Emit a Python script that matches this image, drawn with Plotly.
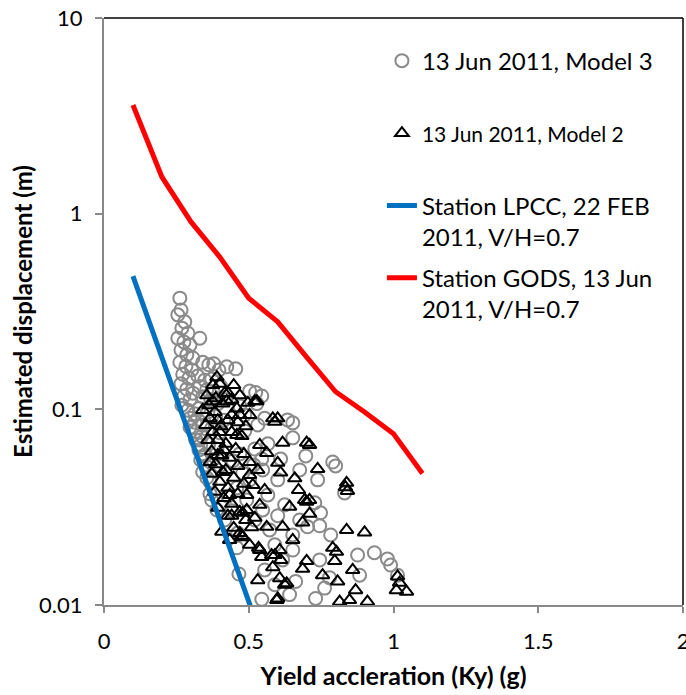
import plotly.graph_objects as go

# ---- data (x: yield acceleration Ky in g, y: displacement in m) ----
m3_x = [0.262,0.266,0.255,0.279,0.269,0.29,0.255,0.276,0.297,0.266,0.286,0.307,0.262,0.283,0.303,0.272,0.293,0.266,0.286,0.307,
        0.276,0.297,0.269,0.29,0.314,0.297,0.314,0.297,0.317,0.338,0.317,0.334,0.328,0.348,0.334,0.352,0.341,0.331,0.341,0.362,
        0.379,0.397,0.424,0.455,0.324,0.348,0.372,0.331,0.355,0.379,0.403,0.341,0.369,0.393,0.421,0.328,0.359,0.386,0.414,0.341,
        0.372,0.40,0.331,0.362,0.39,0.348,0.376,0.40,0.355,0.366,0.366,0.372,0.39,0.503,0.524,0.545,0.528,0.469,0.486,0.555,
        0.531,0.486,0.566,0.521,0.469,0.545,0.445,0.479,0.503,0.459,0.428,0.493,0.441,0.417,0.462,0.459,0.466,0.545,0.634,0.652,
        0.652,0.61,0.79,0.80,0.738,0.831,0.728,0.748,0.703,0.745,0.783,0.652,0.652,0.60,0.572,0.59,0.617,0.555,0.59,0.641,
        0.662,0.745,0.876,0.934,0.979,0.99,1.014,0.883,0.779,0.762,0.731,0.676,0.624,0.548,0.521,0.566,0.60,0.676,0.697,0.548,
        0.517]
m3_y = [0.37,0.322,0.304,0.28,0.26,0.245,0.231,0.221,0.213,0.201,0.19,0.183,0.174,0.166,0.159,0.151,0.144,0.135,0.127,0.121,
        0.117,0.112,0.105,0.099,0.095,0.09,0.086,0.081,0.077,0.073,0.0698,0.0658,0.062,0.0585,0.0551,0.0514,0.0478,0.231,0.174,0.169,
        0.171,0.159,0.165,0.161,0.148,0.141,0.143,0.131,0.126,0.121,0.131,0.116,0.112,0.107,0.112,0.101,0.097,0.092,0.088,0.083,
        0.08,0.076,0.0698,0.0666,0.0627,0.0578,0.0551,0.0514,0.0447,0.0426,0.037,0.0344,0.0306,0.124,0.122,0.117,0.107,0.104,0.0936,0.09,
        0.0832,0.0775,0.0666,0.0627,0.0592,0.0558,0.0545,0.0473,0.0436,0.0397,0.036,0.0344,0.0303,0.0272,0.0233,0.0196,0.0144,0.0107,0.0883,0.0853,
        0.0715,0.0558,0.0538,0.0514,0.0436,0.0374,0.0333,0.0296,0.0251,0.0254,0.0228,0.0228,0.0191,0.0286,0.0242,0.0203,0.017,0.0151,0.0127,0.0113,
        0.0132,0.017,0.018,0.0185,0.0172,0.016,0.0142,0.0142,0.0138,0.0122,0.0108,0.0272,0.0325,0.0306,0.0272,0.0365,0.0436,0.049,0.0578,0.049,
        0.052]

m2_x = [0.39,0.376,0.428,0.40,0.376,0.424,0.459,0.497,0.528,0.503,0.59,0.40,0.459,0.538,0.562,0.393,0.434,0.503,0.41,0.503,
        0.514,0.434,0.493,0.417,0.441,0.41,0.383,0.469,0.366,0.428,0.462,0.403,0.49,0.441,0.376,0.476,0.393,0.421,0.455,0.372,
        0.407,0.483,0.386,0.462,0.421,0.372,0.448,0.40,0.483,0.428,0.383,0.462,0.414,0.441,0.393,0.469,0.428,0.49,0.448,0.407,
        0.476,0.434,0.355,0.362,0.352,0.359,0.366,0.341,0.393,0.414,0.441,0.386,0.469,0.448,0.521,0.583,0.60,0.617,0.70,0.71,
        0.738,0.838,0.841,0.834,0.641,0.70,0.71,0.838,0.90,0.79,0.803,0.797,0.70,0.686,0.755,0.807,0.859,1.014,1.021,1.045,
        1.01,0.814,0.848,0.91,0.60,0.531,0.607,0.631,0.579,0.607,0.534,0.545,0.583,0.469,0.521,0.538,0.479,0.441,0.493,0.562,
        0.479,0.538,0.59,0.597,0.71,0.686,0.617,0.652,0.61,0.624,0.869,0.61,0.60,0.659,0.672,0.693,0.503,0.51,0.555,0.531]
m2_y = [0.146,0.133,0.121,0.135,0.11,0.11,0.101,0.108,0.11,0.0936,0.0863,0.0765,0.074,0.0658,0.0599,0.0585,0.0565,0.0538,0.0478,0.0462,
        0.0411,0.0365,0.0365,0.121,0.112,0.107,0.097,0.0936,0.09,0.088,0.086,0.082,0.082,0.0765,0.0765,0.073,0.0698,0.0666,0.0627,0.061,
        0.058,0.0592,0.0524,0.0514,0.049,0.0468,0.0447,0.0426,0.0417,0.0397,0.0379,0.037,0.0352,0.0329,0.0314,0.0299,0.0286,0.0272,0.0248,0.0237,
        0.0226,0.0215,0.118,0.105,0.0832,0.0698,0.0538,0.0993,0.088,0.062,0.0936,0.114,0.118,0.133,0.11,0.09,0.09,0.0675,0.0675,0.0658,
        0.0496,0.0421,0.0383,0.04,0.0318,0.0337,0.0344,0.0242,0.0235,0.0196,0.0187,0.0168,0.0168,0.0153,0.0142,0.0132,0.0151,0.014,0.013,0.0117,
        0.0119,0.0104,0.0106,0.0104,0.0108,0.0134,0.0137,0.0129,0.018,0.0191,0.0196,0.0176,0.0156,0.0233,0.0279,0.0325,0.0296,0.0286,0.0306,0.0251,
        0.0222,0.0191,0.018,0.0106,0.0293,0.0264,0.0251,0.0215,0.017,0.0127,0.0119,0.0475,0.0533,0.0444,0.0387,0.0344,0.0203,0.025,0.0387,0.049]

lpcc_x = [0.1, 0.2, 0.3, 0.4, 0.5, 0.6]
lpcc_y = [0.48, 0.185, 0.0716, 0.0277, 0.0107, 0.004]

gods_x = [0.1, 0.2, 0.3, 0.4, 0.5, 0.6, 0.7, 0.8, 0.9, 1.0, 1.1]
gods_y = [3.59, 1.54, 0.91, 0.60, 0.37, 0.28, 0.185, 0.123, 0.097, 0.075, 0.047]

x_ticks = [0, 0.5, 1, 1.5, 2]
x_ticktext = ["0", "0.5", "1", "1.5", "2"]
y_ticks = [0.01, 0.1, 1, 10]
y_ticktext = ["0.01", "0.1", "1", "10"]

FONT = "Lato"

fig = go.Figure()
fig.add_trace(go.Scatter(
    x=m3_x, y=m3_y, mode="markers", name="13 Jun 2011, Model 3<br> ", legendgroup="a",
    marker=dict(symbol="circle-open", size=13, color="#8a8a8a", line=dict(width=2, color="#8a8a8a"))))
fig.add_trace(go.Scatter(
    x=m2_x, y=m2_y, mode="markers", legendgroup="b",
    name="<span style='font-size:21px'>13 Jun 2011, Model 2</span><br> ",
    marker=dict(symbol="triangle-up-open", size=12, color="black", line=dict(width=2, color="black"))))
fig.add_trace(go.Scatter(
    x=lpcc_x, y=lpcc_y, mode="lines", legendgroup="c",
    name="Station LPCC, 22 FEB<br>2011, V/H=0.7",
    line=dict(color="#0070C0", width=5)))
fig.add_trace(go.Scatter(
    x=gods_x, y=gods_y, mode="lines", legendgroup="d",
    name="Station GODS, 13 Jun<br>2011, V/H=0.7",
    line=dict(color="#FF0000", width=5)))

fig.update_layout(
    width=686, height=695,
    margin=dict(l=104, r=3, t=18, b=90),
    paper_bgcolor="white", plot_bgcolor="white",
    font=dict(family=FONT, size=22, color="black"),
    legend=dict(x=0.48, y=0.965, xanchor="left", yanchor="top",
                bgcolor="rgba(0,0,0,0)", font=dict(family=FONT, size=24, color="black"),
                traceorder="grouped", tracegroupgap=7, valign="top"),
    shapes=[
        dict(type="line", xref="paper", yref="paper", x0=0, x1=1, y0=1, y1=1,
             line=dict(color="black", width=1.5)),
        dict(type="line", xref="paper", yref="paper", x0=1, x1=1, y0=0, y1=1,
             line=dict(color="black", width=1.5)),
    ],
)
fig.update_xaxes(
    range=[0, 2], tickvals=x_ticks, ticktext=x_ticktext, automargin=False,
    showgrid=False, zeroline=False, showline=True, linecolor="#898989", linewidth=2,
    ticks="outside", ticklen=6, tickcolor="#898989", tickwidth=1.5,
    tickfont=dict(family=FONT, size=22), ticklabelstandoff=10, ticklabeloverflow="allow",
    title=dict(text="<b>Yield accleration (Ky) (g)</b>", font=dict(family=FONT, size=25), standoff=14))
fig.update_yaxes(
    type="log", range=[-2, 1], tickvals=y_ticks, ticktext=y_ticktext, automargin=False,
    showgrid=False, zeroline=False, showline=True, linecolor="#898989", linewidth=2,
    ticks="outside", ticklen=7, tickcolor="#898989", tickwidth=1.5,
    tickfont=dict(family=FONT, size=22), ticklabelstandoff=8, ticklabeloverflow="allow",
    title=dict(text="<b>Estimated displacement (m)</b>", font=dict(family=FONT, size=24), standoff=0))

fig.write_html("out.html", config={"displayModeBar": False},
               post_script="document.body.style.margin='0';")
